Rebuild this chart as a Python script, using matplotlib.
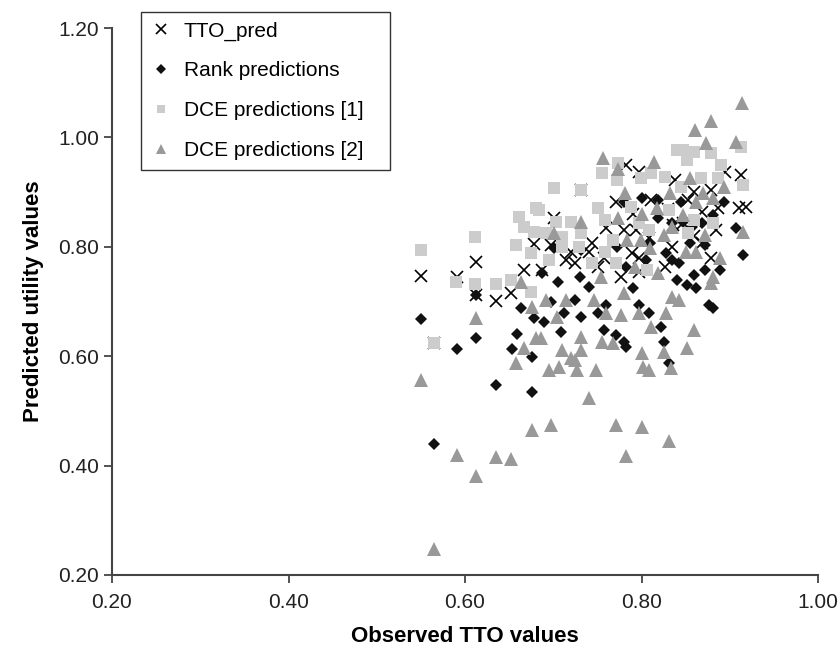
import matplotlib
matplotlib.use("Agg")
import matplotlib.pyplot as plt

plt.rcParams['font.family'] = ['Liberation Sans', 'DejaVu Sans']

# ---- data ----
tto_x = [0.550, 0.591, 0.635, 0.652, 0.667, 0.612, 0.678, 0.612, 0.565, 0.732,
         0.782, 0.797, 0.838, 0.771, 0.811, 0.701, 0.760, 0.780, 0.794, 0.698,
         0.714, 0.725, 0.751, 0.789, 0.797, 0.827, 0.834, 0.744, 0.687, 0.777,
         0.895, 0.913, 0.859, 0.879, 0.910, 0.918, 0.887, 0.868, 0.847, 0.884,
         0.868, 0.879, 0.853, 0.797, 0.808, 0.757, 0.836, 0.740, 0.720, 0.860,
         0.830, 0.790]
tto_y = [0.747, 0.745, 0.701, 0.716, 0.758, 0.772, 0.805, 0.712, 0.624, 0.904,
         0.950, 0.937, 0.922, 0.882, 0.886, 0.853, 0.834, 0.831, 0.831, 0.803,
         0.776, 0.770, 0.763, 0.789, 0.754, 0.763, 0.800, 0.807, 0.758, 0.745,
         0.937, 0.931, 0.900, 0.904, 0.871, 0.873, 0.871, 0.864, 0.844, 0.831,
         0.807, 0.780, 0.886, 0.780, 0.816, 0.780, 0.840, 0.790, 0.790, 0.820,
         0.870, 0.860]

rank_x = [0.550, 0.612, 0.664, 0.678, 0.659, 0.612, 0.591, 0.653, 0.676, 0.635,
          0.676, 0.565, 0.740, 0.698, 0.725, 0.712, 0.731, 0.751, 0.760, 0.689,
          0.757, 0.771, 0.780, 0.797, 0.808, 0.822, 0.825, 0.831, 0.709, 0.783,
          0.780, 0.800, 0.819, 0.819, 0.834, 0.732, 0.701, 0.772, 0.810, 0.828,
          0.687, 0.805, 0.834, 0.782, 0.893, 0.845, 0.881, 0.868, 0.907, 0.857,
          0.847, 0.855, 0.872, 0.915, 0.889, 0.872, 0.859, 0.842, 0.851, 0.862,
          0.881, 0.877, 0.705, 0.730, 0.790, 0.840]
rank_y = [0.668, 0.712, 0.688, 0.670, 0.641, 0.633, 0.613, 0.613, 0.599, 0.547,
          0.535, 0.440, 0.727, 0.699, 0.703, 0.679, 0.672, 0.679, 0.694, 0.663,
          0.648, 0.639, 0.626, 0.694, 0.679, 0.653, 0.626, 0.588, 0.644, 0.617,
          0.882, 0.889, 0.886, 0.853, 0.844, 0.794, 0.798, 0.800, 0.807, 0.789,
          0.752, 0.776, 0.776, 0.763, 0.882, 0.882, 0.858, 0.844, 0.834, 0.836,
          0.845, 0.807, 0.803, 0.785, 0.758, 0.758, 0.748, 0.770, 0.730, 0.725,
          0.688, 0.694, 0.735, 0.745, 0.725, 0.740]

dce1_x = [0.550, 0.611, 0.661, 0.680, 0.667, 0.678, 0.658, 0.675, 0.590, 0.611,
          0.635, 0.652, 0.675, 0.565, 0.773, 0.755, 0.772, 0.701, 0.732, 0.799,
          0.811, 0.827, 0.840, 0.751, 0.759, 0.684, 0.703, 0.720, 0.732, 0.692,
          0.710, 0.729, 0.759, 0.768, 0.797, 0.808, 0.788, 0.771, 0.806, 0.695,
          0.710, 0.744, 0.831, 0.847, 0.859, 0.879, 0.890, 0.915, 0.851, 0.867,
          0.887, 0.845, 0.881, 0.853, 0.859, 0.913]
dce1_y = [0.794, 0.818, 0.855, 0.871, 0.836, 0.827, 0.803, 0.789, 0.736, 0.732,
          0.732, 0.739, 0.717, 0.624, 0.953, 0.935, 0.922, 0.908, 0.904, 0.926,
          0.935, 0.928, 0.977, 0.871, 0.849, 0.867, 0.845, 0.845, 0.825, 0.825,
          0.818, 0.800, 0.791, 0.812, 0.844, 0.831, 0.873, 0.770, 0.758, 0.776,
          0.800, 0.770, 0.867, 0.977, 0.973, 0.971, 0.950, 0.913, 0.959, 0.926,
          0.926, 0.909, 0.844, 0.825, 0.849, 0.982]

dce2_x = [0.612, 0.663, 0.676, 0.680, 0.667, 0.658, 0.550, 0.676, 0.591, 0.635,
          0.652, 0.612, 0.565, 0.780, 0.746, 0.714, 0.692, 0.760, 0.777, 0.797,
          0.811, 0.828, 0.834, 0.704, 0.731, 0.686, 0.755, 0.768, 0.710, 0.732,
          0.720, 0.725, 0.706, 0.695, 0.727, 0.749, 0.800, 0.802, 0.825, 0.833,
          0.808, 0.740, 0.698, 0.771, 0.801, 0.831, 0.782, 0.879, 0.842, 0.859,
          0.852, 0.756, 0.773, 0.814, 0.781, 0.832, 0.732, 0.773, 0.801, 0.818,
          0.701, 0.784, 0.799, 0.810, 0.825, 0.834, 0.793, 0.819, 0.754, 0.861,
          0.879, 0.873, 0.907, 0.855, 0.893, 0.870, 0.862, 0.881, 0.847, 0.872,
          0.915, 0.850, 0.862, 0.889, 0.881, 0.914]
dce2_y = [0.670, 0.736, 0.690, 0.633, 0.615, 0.588, 0.557, 0.465, 0.419, 0.416,
          0.412, 0.381, 0.248, 0.716, 0.703, 0.703, 0.703, 0.679, 0.675, 0.679,
          0.653, 0.679, 0.708, 0.672, 0.635, 0.633, 0.626, 0.624, 0.611, 0.611,
          0.597, 0.593, 0.580, 0.575, 0.575, 0.575, 0.606, 0.580, 0.608, 0.578,
          0.575, 0.524, 0.474, 0.474, 0.471, 0.445, 0.418, 0.734, 0.703, 0.648,
          0.615, 0.962, 0.942, 0.955, 0.898, 0.898, 0.845, 0.853, 0.860, 0.871,
          0.825, 0.812, 0.812, 0.798, 0.822, 0.836, 0.763, 0.752, 0.745, 1.014,
          1.030, 0.990, 0.992, 0.926, 0.909, 0.898, 0.882, 0.889, 0.858, 0.822,
          0.827, 0.791, 0.791, 0.780, 0.745, 1.063]

labels = ["TTO_pred", "Rank predictions", "DCE predictions [1]", "DCE predictions [2]"]
x_ticks = [0.2, 0.4, 0.6, 0.8, 1.0]
y_ticks = [0.2, 0.4, 0.6, 0.8, 1.0, 1.2]

# ---- figure ----
fig = plt.figure(figsize=(8.39, 6.46), dpi=100)
ax = fig.add_axes([112/839, 1-575/646, (818-112)/839, (575-28)/646])

ax.plot(tto_x, tto_y, linestyle='none', marker='x', color='black',
        markersize=9, markeredgewidth=1.2, label=labels[0])
ax.plot(rank_x, rank_y, linestyle='none', marker='D', color='#111111',
        markersize=6.5, markeredgewidth=0, label=labels[1])
ax.plot(dce1_x, dce1_y, linestyle='none', marker='s', color='#cccccc',
        markersize=8.5, markeredgewidth=0, label=labels[2])
ax.plot(dce2_x, dce2_y, linestyle='none', marker='^', color='#999999',
        markersize=9.5, markeredgewidth=0, label=labels[3])

ax.set_xlim(0.2, 1.0)
ax.set_ylim(0.2, 1.2)
ax.set_xticks(x_ticks)
ax.set_yticks(y_ticks)
ax.set_xticklabels([f"{v:.2f}" for v in x_ticks])
ax.set_yticklabels([f"{v:.2f}" for v in y_ticks])
ax.tick_params(direction='out', length=6, width=1.3, color='#444444',
               labelsize=15, labelcolor='#222222')
ax.tick_params(axis='x', pad=7)
for s in ['top', 'right']:
    ax.spines[s].set_visible(False)
for s in ['left', 'bottom']:
    ax.spines[s].set_color('#444444')
    ax.spines[s].set_linewidth(1.5)

ax.set_xlabel("Observed TTO values", fontsize=16, fontweight='bold', labelpad=10)
ax.set_ylabel("Predicted utility values", fontsize=16, fontweight='bold', labelpad=10)

leg = fig.legend(loc='upper left',
                 bbox_to_anchor=(141/839, 1-169/646, 249/839, 157/646),
                 mode='expand', borderaxespad=0.0,
                 fontsize=15, frameon=True, fancybox=False, edgecolor='black',
                 markerscale=0.75, handlelength=1.0, handletextpad=0.6,
                 labelspacing=1.0, borderpad=0.45)
leg.get_frame().set_linewidth(1.0)

fig.savefig("out.png", dpi=100)
